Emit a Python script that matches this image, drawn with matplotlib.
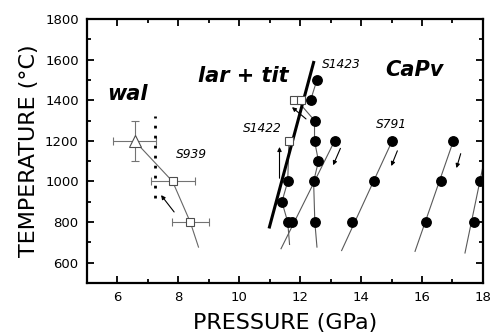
import numpy as np
import matplotlib
matplotlib.use('Agg')
import matplotlib.pyplot as plt

# --- data ---
# wadeite (wal) run, open symbols with error bars
wal_P = [6.56, 7.81, 8.39]
wal_T = [1200, 1000, 800]
wal_Perr = [0.72, 0.72, 0.60]
wal_Terr = [100, 0, 0]
wal_trend_P = [6.56, 7.81, 8.39, 8.66]
wal_trend_T = [1200, 1000, 800, 677]
wal_bound_P = [7.24, 7.24]
wal_bound_T = [920, 1320]

# filled circles (CaPv runs)
capv_P = [12.55, 12.34, 12.47, 12.47, 13.13, 12.60, 11.59, 12.44, 14.42, 11.40,
          11.59, 11.74, 12.48, 13.71, 15.02, 17.03, 16.61, 16.14, 17.90, 17.71]
capv_T = [1500, 1400, 1300, 1200, 1200, 1100, 1000, 1000, 1000, 900,
          800, 800, 800, 800, 1200, 1200, 1000, 800, 1000, 800]

# open squares (lar + tit)
sq_P = [11.63, 11.79, 12.02]
sq_T = [1200, 1400, 1400]

# thin trend lines through each run
runs = [
    ([12.55, 12.34], [1500, 1400]),
    ([11.95, 12.47, 12.47, 12.60, 12.44, 12.48, 12.55], [1390, 1300, 1200, 1100, 1000, 800, 677]),
    ([11.63, 11.59, 11.40, 11.59, 11.65], [1200, 1000, 900, 800, 690]),
    ([13.13, 11.37], [1200, 669]),
    ([15.02, 13.36], [1200, 660]),
    ([17.03, 15.77], [1200, 656]),
    ([18.05, 17.41], [1110, 648]),
]

# phase boundary lar+tit / CaPv
bound_P = [10.99, 12.44]
bound_T = [776, 1586]

# arrows: (tail P, tail T, head P, head T)
arrows = [
    (11.32, 1016, 11.32, 1170),
    (12.19, 1308, 11.73, 1366),
    (13.32, 1163, 13.08, 1080),
    (15.19, 1151, 14.99, 1076),
    (17.27, 1137, 17.13, 1066),
    (7.86, 850, 7.43, 933),
]

fig = plt.figure(figsize=(4.9, 3.33), dpi=100, facecolor='w')
ax = fig.add_axes([0.1776, 0.150, 0.808, 0.793])

for p, t in runs:
    ax.plot(p, t, color='0.35', lw=0.8, zorder=2)

ax.plot(bound_P, bound_T, color='k', lw=2.2, zorder=3)

ax.plot(wal_trend_P, wal_trend_T, color='0.4', lw=0.8, zorder=2)
ax.errorbar(wal_P, wal_T, xerr=wal_Perr, yerr=wal_Terr, fmt='none',
            ecolor='0.45', elinewidth=0.8, capsize=3, capthick=0.8, zorder=3)
ax.plot(wal_P[:1], wal_T[:1], marker='^', ms=8, mfc='w', mec='0.3', mew=0.8,
        ls='none', zorder=4)
ax.plot(wal_P[1:], wal_T[1:], marker='s', ms=6, mfc='w', mec='0.3', mew=0.8,
        ls='none', zorder=4)
ax.plot(wal_bound_P, wal_bound_T, color='k', lw=2.0, ls=(0, (1, 2.6)), zorder=3)

ax.plot(sq_P, sq_T, marker='s', ms=5.5, mfc='w', mec='0.3', mew=0.8,
        ls='none', zorder=4)
ax.plot(capv_P, capv_T, marker='o', ms=6.8, color='k', ls='none', zorder=5)

for x0, y0, x1, y1 in arrows:
    ax.annotate('', xy=(x1, y1), xytext=(x0, y0),
                arrowprops=dict(arrowstyle='-|>', lw=0.8, color='k',
                                mutation_scale=6, shrinkA=0, shrinkB=0),
                zorder=4)

big = dict(fontsize=15, fontweight='bold', fontstyle='italic')
ax.text(5.66, 1400, 'wal', **big)
ax.text(8.65, 1492, 'lar + tit', **big)
ax.text(14.8, 1517, 'CaPv', **big)
small = dict(fontsize=8.8, fontstyle='italic')
ax.text(7.93, 1117, 'S939', **small)
ax.text(12.72, 1558, 'S1423', **small)
ax.text(10.12, 1245, 'S1422', **small)
ax.text(14.47, 1265, 'S791', **small)

ax.set_xlim(5, 18)
ax.set_ylim(500, 1800)
ax.set_xticks(np.arange(6, 19, 2))
ax.set_xticks(np.arange(5, 19, 1), minor=True)
ax.set_yticks(np.arange(600, 1801, 200))
ax.set_yticks(np.arange(500, 1801, 100), minor=True)
ax.tick_params(which='both', direction='in', top=True, right=True,
               labelsize=9.5, width=1.3)
ax.tick_params(which='major', length=5, pad=6)
ax.tick_params(which='minor', length=3)
for s in ax.spines.values():
    s.set_linewidth(1.6)

ax.set_xlabel('PRESSURE (GPa)', fontsize=16, labelpad=6)
ax.set_ylabel('TEMPERATURE (\u00b0C)', fontsize=16, labelpad=4)

fig.savefig('out.png', dpi=100)
